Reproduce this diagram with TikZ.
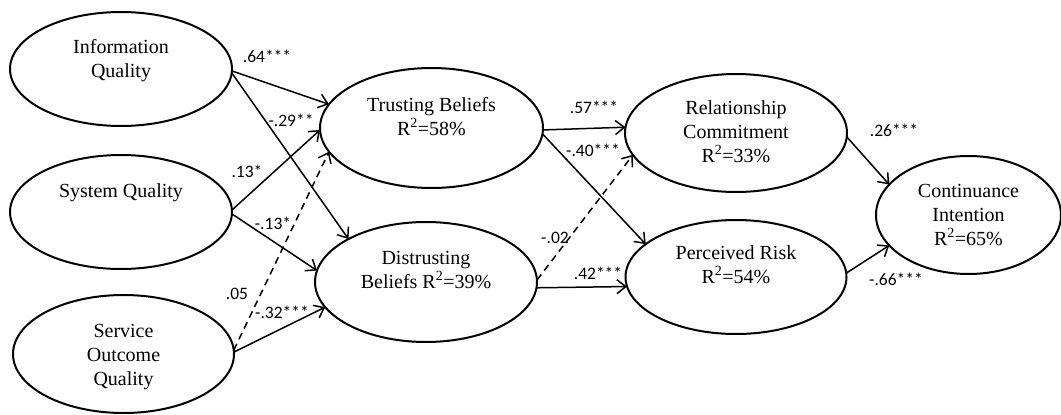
\documentclass[tikz,border=0pt]{standalone}
\usepackage{fontspec}
\setmainfont{Liberation Serif}
\newfontfamily\lblfont{Carlito}
\usetikzlibrary{shapes.geometric,arrows.meta}
\begin{document}
\begin{tikzpicture}[x=1pt,y=-1pt,
  construct/.style={ellipse, draw, line width=2pt, inner sep=0pt, outer sep=0pt},
  ctext/.style={anchor=base, align=center, inner sep=0pt, font=\fontsize{20}{24}\selectfont},
  link/.style={line width=1.5pt, -{Straight Barb[length=9pt,width=14pt]}},
  nslink/.style={link, dash pattern=on 7pt off 5pt},
  coef/.style={font=\lblfont\fontsize{17.5}{20}\selectfont, inner sep=0pt}
]
\useasboundingbox (0,0) rectangle (1061,415);

% constructs
\node[construct, minimum width=222pt, minimum height=114pt] (iq)  at (121,69)  {};
\node[construct, minimum width=222pt, minimum height=114pt] (sq)  at (121,212) {};
\node[construct, minimum width=221pt, minimum height=118pt] (soq) at (123.5,354) {};
\node[construct, minimum width=223pt, minimum height=120pt] (tb)  at (431.5,128) {};
\node[construct, minimum width=222pt, minimum height=120pt] (db)  at (426,282) {};
\node[construct, minimum width=222pt, minimum height=118pt] (rc)  at (736,133) {};
\node[construct, minimum width=221pt, minimum height=114pt] (pr)  at (736,277) {};
\node[construct, minimum width=185pt, minimum height=118pt] (ci)  at (968.5,215) {};

% construct texts (anchor = baseline of last line)
\node[ctext] (iqt)  at (121,77)  {Information\\Quality};
\node[ctext] (sqt)  at (121,197) {System Quality};
\node[ctext] (soqt) at (123.5,385) {Service\\Outcome\\Quality};
\node[ctext] (tbt)  at (431.5,135) {Trusting Beliefs\\R\textsuperscript{2}=58\%};
\node[ctext] (dbt)  at (426,288) {Distrusting\\Beliefs R\textsuperscript{2}=39\%};
\node[ctext] (rct)  at (736,162) {Relationship\\Commitment\\R\textsuperscript{2}=33\%};
\node[ctext] (prt)  at (736,283) {Perceived Risk\\R\textsuperscript{2}=54\%};
\node[ctext] (cit)  at (968.5,245) {Continuance\\Intention\\R\textsuperscript{2}=65\%};

% paths
\draw[link]   (iq.-1)  -- (tb.167.5);
\draw[link]   (iq.-2.6) -- (db.151);
\draw[link]   (sq.1)   -- (tb.181.5);
\draw[link]   (sq.-1)  -- (db.174);
\draw[nslink] (soq.2)  -- (tb.193.6);
\draw[link]   (soq.1)  -- (db.194.2);
\draw[link]   (tb.-1)  -- (rc.177.4);
\draw[link]   (tb.-3)  -- (pr.160.1);
\draw[nslink] (db.1)   -- (rc.192);
\draw[link]   (db.-3.6) -- (pr.185.1);
\draw[link]   (rc.-2)  -- (ci.159);
\draw[link]   (pr.2)   -- (ci.201.7);

% coefficients
\node[coef] (c1)  at (267,56)  {.64***};
\node[coef] (c2)  at (291,120) {-.29**};
\node[coef] (c3)  at (247,171) {.13*};
\node[coef] (c4)  at (273,223) {-.13*};
\node[coef] (c5)  at (237,294) {.05};
\node[coef] (c6)  at (282,312) {-.32***};
\node[coef] (c7)  at (594,107) {.57***};
\node[coef] (c8)  at (593,150) {-.40***};
\node[coef] (c9)  at (555,238) {-.02};
\node[coef] (c10) at (598,273) {.42***};
\node[coef] (c11) at (894,130) {.26***};
\node[coef] (c12) at (896,279) {-.66***};
\end{tikzpicture}
\end{document}
